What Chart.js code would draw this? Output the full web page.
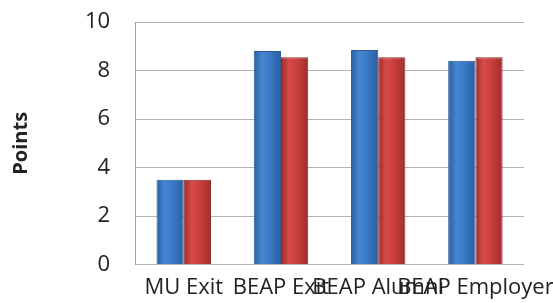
<!DOCTYPE html>
<html>
<head>
<meta charset="utf-8">
<script src="https://cdn.jsdelivr.net/npm/chart.js@4.4.1/dist/chart.umd.min.js"></script>
<style>
  html, body { margin: 0; padding: 0; background: #fff; }
  #wrap { width: 553px; height: 303px; }
</style>
</head>
<body>
<div id="wrap"><canvas id="myChart"></canvas></div>
<script>
// 카테고리 / 시리즈 값
const categories = ['MU Exit', 'BEAP Exit', 'BEAP Alumni', 'BEAP Employer'];
const seriesBlue = [3.5, 8.8, 8.85, 8.4];
const seriesRed = [3.5, 8.55, 8.55, 8.55];
const yTicks = [0, 2, 4, 6, 8, 10];

// 막대 가로 그라데이션 (원통 느낌)
function barFill(edge, mid, light) {
    return (context) => {
        const meta = context.chart.getDatasetMeta(context.datasetIndex);
        const el = meta.data[context.dataIndex];
        if (!el || !isFinite(el.x) || !isFinite(el.width)) return mid;
        const x0 = el.x - el.width / 2;
        const g = context.chart.ctx.createLinearGradient(x0, 0, x0 + el.width, 0);
        g.addColorStop(0, edge);
        g.addColorStop(0.3, light);
        g.addColorStop(0.6, mid);
        g.addColorStop(1, edge);
        return g;
    };
}

const ctx = document.getElementById('myChart').getContext('2d');
const myChart = new Chart(ctx, {
    type: 'bar',
    data: {
        labels: categories,
        datasets: [{
            label: 'Series 1',
            data: seriesBlue,
            backgroundColor: barFill('#2b5d9f', '#3a79c6', '#4586d4'),
            borderColor: '#2a5a96',
            borderWidth: 1
        },
        {
            label: 'Series 2',
            data: seriesRed,
            backgroundColor: barFill('#9c2f2d', '#c93e3b', '#d64b48'),
            borderColor: '#8e2826',
            borderWidth: 1
        }]
    },
    options: {
        responsive: true,
        maintainAspectRatio: false,
        animation: false,
        layout: {
            padding: { top: 22, right: 29, bottom: 0, left: 9 }
        },
        datasets: {
            bar: {
                categoryPercentage: 0.56,
                barPercentage: 1
            }
        },
        scales: {
            x: {
                grid: { display: true, drawOnChartArea: false, drawTicks: true, tickLength: 8, tickColor: 'transparent' },
                border: { display: false },
                afterFit: (scale) => {
                    // 마지막 라벨은 캔버스 밖으로 잘리게 둠
                    scale.paddingRight = 0;
                    scale.paddingLeft = 0;
                },
                ticks: {
                    autoSkip: false,
                    maxRotation: 0,
                    minRotation: 0,
                    padding: 2,
                    color: '#222',
                    font: { family: 'Open Sans', size: 22 }
                }
            },
            y: {
                min: 0,
                max: 10,
                afterBuildTicks: (scale) => {
                    scale.ticks = yTicks.map(v => ({ value: v }));
                },
                grid: { color: '#b4b4b4', drawTicks: true, tickLength: 19, tickColor: 'transparent' },
                border: { display: true, color: '#a0a0a0' },
                ticks: {
                    padding: 6,
                    color: '#222',
                    font: { family: 'Open Sans', size: 22 }
                },
                title: {
                    display: true,
                    text: 'Points',
                    color: '#222',
                    padding: { top: 0, bottom: 46 },
                    font: { family: 'Open Sans', size: 20, weight: 'bold' }
                }
            }
        },
        plugins: {
            legend: { display: false },
            tooltip: { enabled: false }
        }
    }
});
// 첫 렌더 후 막대 위치로 그라데이션 다시 계산
myChart.update();
</script>
</body>
</html>
